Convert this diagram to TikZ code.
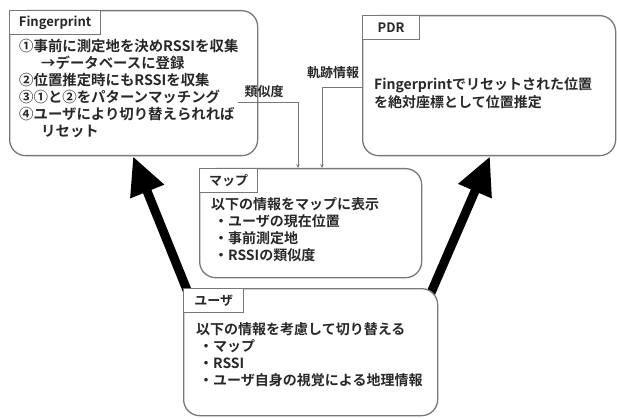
\documentclass[tikz,border=0pt]{standalone}
\usepackage{fontspec}
\setmainfont{Noto Sans CJK JP}[BoldFont={Noto Sans CJK JP Bold}]
\usetikzlibrary{arrows.meta}
\definecolor{boxgray}{RGB}{120,120,120}
\definecolor{ink}{RGB}{40,40,40}
\begin{document}
\begin{tikzpicture}[x=1pt,y=-1pt,
  box/.style={draw=boxgray, line width=1.3pt, rounded corners=16pt, inner sep=0pt, anchor=north west, fill=white},
  tag/.style={draw=boxgray, line width=1.3pt, fill=white, anchor=north west, inner xsep=7pt, inner ysep=0pt, minimum height=24pt, text=ink, font=\bfseries\fontsize{13}{13}\selectfont},
  txt/.style={anchor=north west, align=left, inner sep=0pt, text=ink, font=\bfseries\fontsize{14}{17}\selectfont},
  lbl/.style={inner sep=0pt, text=ink, font=\bfseries\fontsize{13}{13}\selectfont},
  conn/.style={draw=boxgray, line width=1pt, -{Stealth[length=4pt,width=3.5pt]}},
  big/.style={line width=9pt, -{Triangle[length=38pt,width=34pt]}}
]
\useasboundingbox (0,0) rectangle (617,419);
\fill[white] (0,0) rectangle (617,419);

% boxes
\node[box, minimum width=248pt, minimum height=145pt] (fp) at (9,10) {};
\node[box, minimum width=253pt, minimum height=140pt] (pdr) at (362,15) {};
\node[box, minimum width=222pt, minimum height=109pt] (map) at (199,168) {};

% big arrows (tails hidden under the user box)
\coordinate (u1) at (191,300);
\coordinate (u2) at (427,302);
\draw[big] (u1) -- ([xshift=124pt]fp.south west);
\draw[big] (u2) -- ([xshift=128pt]pdr.south west);

\node[box, minimum width=254pt, minimum height=127pt] (user) at (183,288) {};

% tags
\node[tag, minimum width=91pt] (fptag) at (fp.north west) {Fingerprint};
\node[tag, minimum width=57pt] (pdrtag) at (pdr.north west) {PDR};
\node[tag, minimum width=58pt] (maptag) at (map.north west) {マップ};
\node[tag, minimum width=60pt] (usertag) at (user.north west) {ユーザ};

% texts
\node[txt, font=\bfseries\fontsize{14.4}{17}\selectfont] (fptxt) at (19,39) {①事前に測定地を決めRSSIを収集\\
\hspace{22pt}→データベースに登録\\
②位置推定時にもRSSIを収集\\
③①と②をパターンマッチング\\
④ユーザにより切り替えられれば\\
\hspace{22pt}リセット};
\node[txt, font=\bfseries\fontsize{14}{18}\selectfont] (pdrtxt) at (374,77) {Fingerprintでリセットされた位置\\を絶対座標として位置推定};
\node[txt] (maptxt) at (211,197) {以下の情報をマップに表示\\
\hspace{3pt}・ユーザの現在位置\\
\hspace{3pt}・事前測定地\\
\hspace{3pt}・RSSIの類似度};
\node[txt] (usertxt) at (196,322) {以下の情報を考慮して切り替える\\
\hspace{3pt}・マップ\\
\hspace{3pt}・RSSI\\
\hspace{3pt}・ユーザ自身の視覚による地理情報};

% connectors
\coordinate (s1) at (238,103);
\draw[conn] (s1) -| ([xshift=99pt]map.north west);
\draw[conn] ([yshift=-2pt]pdr.west) -| ([xshift=123pt]map.north west);
\node[lbl] (simlbl) at (264,92) {類似度};
\node[lbl] (trlbl) at (333,73) {軌跡情報};
\end{tikzpicture}
\end{document}
